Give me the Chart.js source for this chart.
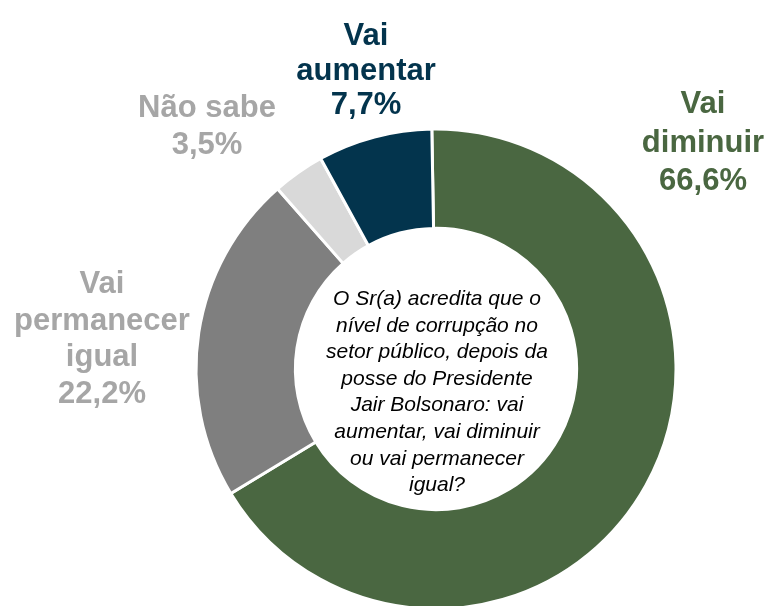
<!DOCTYPE html>
<html>
<head>
<meta charset="utf-8">
<script src="https://cdn.jsdelivr.net/npm/chart.js@4.4.1/dist/chart.umd.min.js"></script>
<style>
  html, body { margin: 0; padding: 0; background: #fff; overflow: hidden; }
  #wrap { width: 769px; height: 606px; position: relative; }
</style>
</head>
<body>
<div id="wrap"><canvas id="donut" width="769" height="606"></canvas></div>
<script>
    // data
    var categories = ["Vai diminuir", "Vai permanecer igual", "Não sabe", "Vai aumentar"];
    var values = [66.6, 22.2, 3.5, 7.7];
    var labelLines = [["Vai", "diminuir"], ["Vai", "permanecer", "igual"], ["Não sabe"], ["Vai", "aumentar"]];
    var question = ["O Sr(a) acredita que o", "nível de corrupção no", "setor público, depois da",
        "posse do Presidente", "Jair Bolsonaro: vai", "aumentar, vai diminuir",
        "ou vai permanecer", "igual?"];

    var segColors = ["#4a6741", "#7f7f7f", "#d9d9d9", "#03344d"];
    var textColors = ["#4a6741", "#a6a6a6", "#a6a6a6", "#03344d"];

    // label anchors (centre x, first baseline, line step)
    var labelPos = [
        { x: 703, y: 113, step: 38.5 },
        { x: 102, y: 293, step: 36.5 },
        { x: 207, y: 117, step: 36.5 },
        { x: 366, y: 45, step: 34.5 }
    ];

    function pct(v) {
        return v.toFixed(1).replace(".", ",") + "%";
    }

    var textPlugin = {
        id: "textPlugin",
        afterDraw: function (chart) {
            var ctx = chart.ctx;
            var meta = chart.getDatasetMeta(0);
            var arc = meta.data[0];
            ctx.save();
            ctx.textAlign = "center";
            ctx.textBaseline = "alphabetic";

            // outside labels
            ctx.font = "bold 31px 'Liberation Sans', Arial, sans-serif";
            for (var i = 0; i < categories.length; i++) {
                var lines = labelLines[i].concat([pct(values[i])]);
                ctx.fillStyle = textColors[i];
                for (var j = 0; j < lines.length; j++) {
                    ctx.fillText(lines[j], labelPos[i].x, labelPos[i].y + j * labelPos[i].step);
                }
            }

            // question in the hole
            ctx.fillStyle = "#000";
            ctx.font = "italic 21px 'Liberation Sans', Arial, sans-serif";
            var cx = arc.x + 1;
            var top = 305;
            for (var k = 0; k < question.length; k++) {
                ctx.fillText(question[k], cx, top + k * 26.6);
            }
            ctx.restore();
        }
    };

    var ctx = document.getElementById("donut");
    var myChart = new Chart(ctx, {
        type: "doughnut",
        data: {
            labels: categories,
            datasets: [{
                data: values,
                backgroundColor: segColors,
                borderColor: "#ffffff",
                borderWidth: 3,
                clip: false
            }]
        },
        options: {
            responsive: false,
            animation: false,
            rotation: -1,
            radius: 240,
            cutout: "58.6%",
            layout: {
                padding: { left: 103, top: 132, right: 0, bottom: 0 }
            },
            plugins: {
                legend: { display: false },
                tooltip: { enabled: false }
            }
        },
        plugins: [textPlugin]
    });
</script>
</body>
</html>
